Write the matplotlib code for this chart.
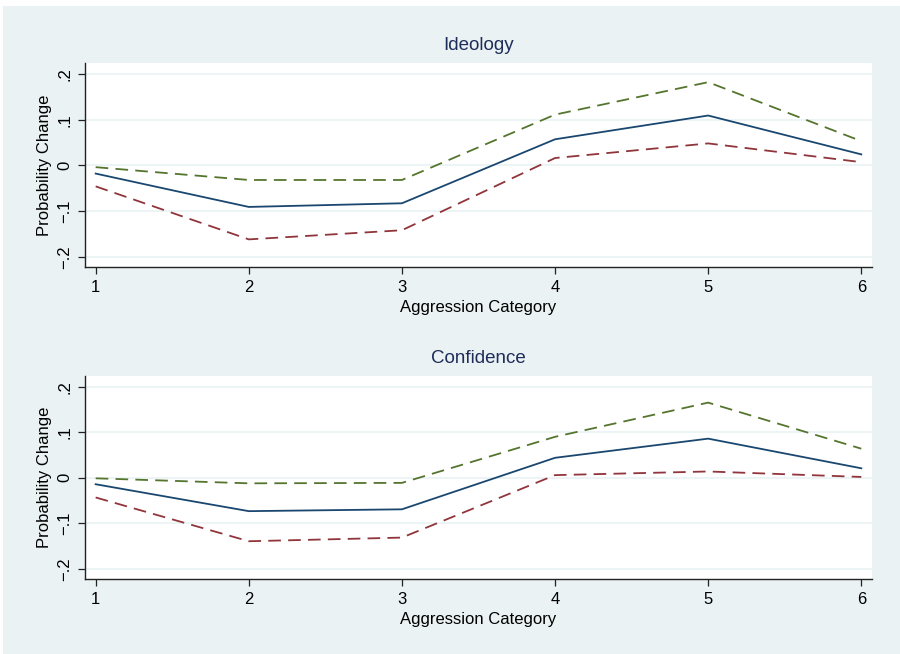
import matplotlib.pyplot as plt
from matplotlib.patches import Rectangle

plt.rcParams['font.family'] = ['Liberation Sans', 'DejaVu Sans']

# aggression categories on the x axis
categories = [1, 2, 3, 4, 5, 6]

# Ideology panel
ideo_mid = [-0.018, -0.091, -0.083, 0.057, 0.109, 0.024]
ideo_hi = [-0.004, -0.032, -0.032, 0.111, 0.182, 0.053]
ideo_lo = [-0.046, -0.162, -0.142, 0.016, 0.048, 0.007]

# Confidence panel
conf_mid = [-0.014, -0.073, -0.069, 0.044, 0.086, 0.021]
conf_hi = [-0.001, -0.012, -0.011, 0.090, 0.165, 0.064]
conf_lo = [-0.043, -0.139, -0.131, 0.006, 0.014, 0.002]

yticks = [-0.2, -0.1, 0.0, 0.1, 0.2]
ytick_labels = ['\u2212.2', '\u2212.1', '0', '.1', '.2']

bg = '#EAF2F3'
navy = '#1A476F'
maroon = '#90353B'
green = '#55752F'
title_col = '#1E2D5A'

fig = plt.figure(figsize=(9, 6.54), dpi=100)
fig.patch.set_facecolor('white')
fig.patches.append(Rectangle((3 / 900, 0), 1, 1 - 6 / 654, transform=fig.transFigure,
                             facecolor=bg, edgecolor='none', zorder=-10))

panels = [
    ("Ideology", ideo_mid, ideo_hi, ideo_lo, [0.0944, 0.5917, 0.8745, 0.312]),
    ("Confidence", conf_mid, conf_hi, conf_lo, [0.0944, 0.1142, 0.8745, 0.3113]),
]

for title, mid, hi, lo, pos in panels:
    ax = fig.add_axes(pos)
    ax.set_facecolor('white')
    for y in yticks:
        ax.axhline(y, color=bg, lw=1.2, zorder=0)
    ax.plot(categories, mid, color=navy, lw=1.3)
    ax.plot(categories, hi, color=green, lw=1.3, dashes=(7, 4))
    ax.plot(categories, lo, color=maroon, lw=1.3, dashes=(7, 4))
    ax.set_xlim(0.93, 6.07)
    ax.set_ylim(-0.2225, 0.224)
    ax.set_xticks(categories)
    ax.set_yticks(yticks)
    ax.set_yticklabels(ytick_labels, rotation=90, va='center')
    for s in ['top', 'right']:
        ax.spines[s].set_visible(False)
    for s in ['left', 'bottom']:
        ax.spines[s].set_color('#222222')
        ax.spines[s].set_linewidth(1.0)
    ax.tick_params(length=5, width=0.9, color='#222222', labelsize=12, pad=4)
    ax.set_xlabel("Aggression Category", fontsize=12, labelpad=4)
    ax.set_ylabel("Probability Change", fontsize=12, labelpad=4)
    ax.set_title(title, fontsize=13.5, color=title_col, pad=9)

fig.savefig('out.png', dpi=100, facecolor=fig.get_facecolor())
